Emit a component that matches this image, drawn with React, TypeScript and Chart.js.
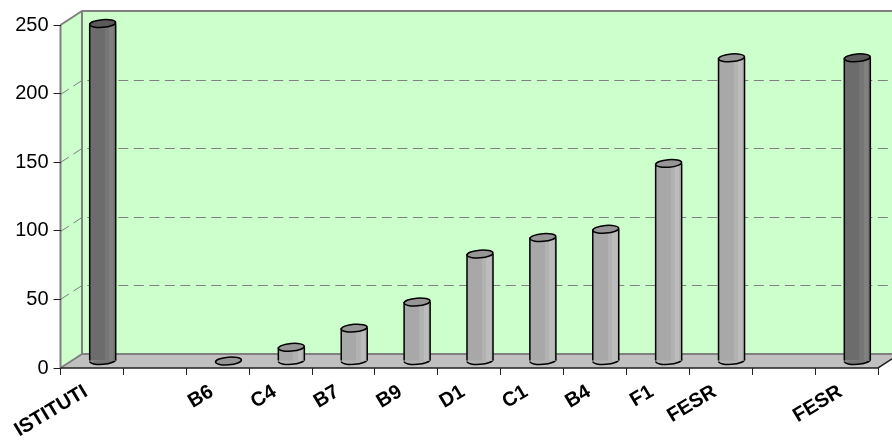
import React, { useEffect, useRef } from "react";
import { Chart, registerables } from "chart.js";

Chart.register(...registerables);

const categories = ["ISTITUTI", "", "B6", "C4", "B7", "B9", "D1", "C1", "B4", "F1", "FESR", "", "FESR"];
const values = [246, null, 0, 10, 24, 43, 78, 90, 96, 144, 221, null, 221];
const darkBars = [0, 12];
const yTicks = [0, 50, 100, 150, 200, 250];

const DEPTH_X = 21.5;
const DEPTH_Y = 14;
const BAR_W = 26;
const RY = 3.8;
const LIGHT = ["#a8a8a8", "#b2b2b2", "#bcbcbc", "#b2b2b2", "#a6a6a6", "#9c9c9c"];
const DARK = ["#6c6c6c", "#767676", "#808080", "#767676", "#6a6a6a", "#606060"];
const TOP_LIGHT = "#969696";
const TOP_DARK = "#5a5a5a";

const scene = {
  id: "scene",
  beforeDraw(chart: any) {
    const { ctx, chartArea: a, scales } = chart;
    const { left: l, right: r, top: t, bottom: b } = a;
    ctx.save();
    // walls
    ctx.fillStyle = "#ccffcc";
    ctx.beginPath();
    ctx.moveTo(l, t);
    ctx.lineTo(l + DEPTH_X, t - DEPTH_Y);
    ctx.lineTo(r + DEPTH_X, t - DEPTH_Y);
    ctx.lineTo(r + DEPTH_X, b - DEPTH_Y);
    ctx.lineTo(l + DEPTH_X, b - DEPTH_Y);
    ctx.lineTo(l, b);
    ctx.closePath();
    ctx.fill();
    // floor
    ctx.fillStyle = "#c0c0c0";
    ctx.beginPath();
    ctx.moveTo(l, b);
    ctx.lineTo(l + DEPTH_X, b - DEPTH_Y);
    ctx.lineTo(r + DEPTH_X, b - DEPTH_Y);
    ctx.lineTo(r, b);
    ctx.closePath();
    ctx.fill();
    // grid
    ctx.strokeStyle = "#808080";
    ctx.lineWidth = 1;
    ctx.setLineDash([10, 5.5]);
    yTicks.slice(1, -1).forEach((v) => {
      const y = Math.round(scales.y.getPixelForValue(v)) + 0.5;
      ctx.beginPath();
      ctx.moveTo(l, y);
      ctx.lineTo(l + DEPTH_X, y - DEPTH_Y);
      ctx.lineTo(r + DEPTH_X, y - DEPTH_Y);
      ctx.stroke();
    });
    ctx.setLineDash([]);
    // frame
    ctx.lineWidth = 2;
    ctx.beginPath();
    ctx.moveTo(l, t);
    ctx.lineTo(l + DEPTH_X, t - DEPTH_Y);
    ctx.lineTo(r + DEPTH_X, t - DEPTH_Y);
    ctx.moveTo(l + DEPTH_X, t - DEPTH_Y);
    ctx.lineTo(l + DEPTH_X, b - DEPTH_Y);
    ctx.lineTo(l, b);
    ctx.moveTo(l + DEPTH_X, b - DEPTH_Y);
    ctx.lineTo(r + DEPTH_X, b - DEPTH_Y);
    ctx.moveTo(l, t);
    ctx.lineTo(l, b);
    ctx.stroke();
    ctx.strokeStyle = "#202020";
    ctx.lineWidth = 1.5;
    ctx.beginPath();
    ctx.moveTo(l, b);
    ctx.lineTo(r, b);
    ctx.lineTo(r + DEPTH_X, b - DEPTH_Y);
    ctx.stroke();
    ctx.restore();
  },
  beforeDatasetDraw(chart: any) {
    const { ctx } = chart;
    const meta = chart.getDatasetMeta(0);
    ctx.save();
    ctx.translate(DEPTH_X / 2, -DEPTH_Y / 2);
    // rounded feet under the cylinders
    meta.data.forEach((el: any, i: number) => {
      if (values[i] == null || values[i] === 0) return;
      ctx.beginPath();
      ctx.ellipse(el.x, el.base, BAR_W / 2, RY, -0.08, 0, Math.PI);
      ctx.fillStyle = darkBars.includes(i) ? DARK[3] : LIGHT[3];
      ctx.strokeStyle = "#000";
      ctx.lineWidth = 1.5;
      ctx.fill();
      ctx.stroke();
    });
  },
  afterDatasetDraw(chart: any) {
    const { ctx } = chart;
    const meta = chart.getDatasetMeta(0);
    meta.data.forEach((el: any, i: number) => {
      if (values[i] == null) return;
      ctx.strokeStyle = "#000";
      ctx.lineWidth = 1.5;
      if (values[i] !== 0) {
        ctx.beginPath();
        ctx.moveTo(el.x - BAR_W / 2, el.base);
        ctx.lineTo(el.x - BAR_W / 2, el.y);
        ctx.moveTo(el.x + BAR_W / 2, el.base);
        ctx.lineTo(el.x + BAR_W / 2, el.y);
        ctx.stroke();
      }
      ctx.beginPath();
      ctx.ellipse(el.x, el.y, BAR_W / 2, RY, -0.08, 0, Math.PI * 2);
      ctx.fillStyle = darkBars.includes(i) ? TOP_DARK : TOP_LIGHT;
      ctx.fill();
      ctx.stroke();
    });
    ctx.restore();
  },
};

export default function App() {
  const ref = useRef<HTMLCanvasElement>(null);
  useEffect(() => {
    const chart = new Chart(ref.current!, {
      type: "bar",
      data: {
        labels: categories,
        datasets: [
          {
            data: values as any,
            barThickness: BAR_W,
            borderWidth: 0,
            backgroundColor: (c: any) => {
              const stops = darkBars.includes(c.dataIndex) ? DARK : LIGHT;
              const x = c.chart.scales?.x;
              const cx = x ? x.getPixelForValue(c.dataIndex) + DEPTH_X / 2 : NaN;
              if (!Number.isFinite(cx)) return stops[2];
              const g = c.chart.ctx.createLinearGradient(cx - BAR_W / 2, 0, cx + BAR_W / 2, 0);
              stops.forEach((s, i) => {
                g.addColorStop(i / stops.length, s);
                g.addColorStop((i + 1) / stops.length, s);
              });
              return g;
            },
          },
        ],
      },
      options: {
        responsive: false,
        animation: false,
        events: [],
        layout: { padding: { top: 25, right: 14, left: 0, bottom: 0 } },
        plugins: { legend: { display: false }, tooltip: { enabled: false } },
        scales: {
          x: {
            afterFit: (s: any) => {
              s.height = 76;
            },
            grid: {
              drawOnChartArea: false,
              drawTicks: true,
              tickLength: 7,
              color: "#202020",
              lineWidth: 1,
            },
            border: { display: false },
            ticks: {
              autoSkip: false,
              maxRotation: 31,
              minRotation: 31,
              padding: 5,
              labelOffset: -6,
              color: "#000",
              font: { family: "Liberation Sans", size: 20, weight: "bold" },
            },
          },
          y: {
            min: 0,
            max: 250,
            afterFit: (s: any) => {
              s.width = 60.5;
            },
            afterBuildTicks: (s: any) => {
              s.ticks = yTicks.map((value) => ({ value }));
            },
            grid: {
              drawOnChartArea: false,
              drawTicks: true,
              tickLength: 7,
              color: "#202020",
            },
            border: { display: false },
            ticks: {
              padding: 5,
              color: "#000",
              font: { family: "Liberation Sans", size: 20 },
            },
          },
        },
      },
      plugins: [scene],
    } as any);
    return () => chart.destroy();
  }, []);
  return (
    <canvas
      ref={ref}
      width={892}
      height={444}
      style={{ position: "absolute", left: 0, top: 0, display: "block" }}
    />
  );
}
